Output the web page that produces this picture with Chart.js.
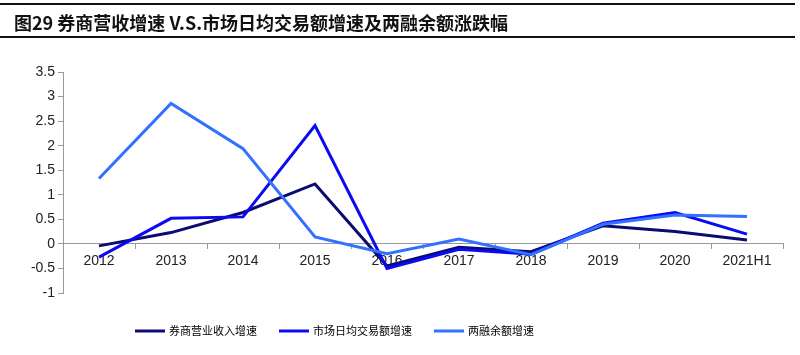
<!DOCTYPE html>
<html>
<head>
<meta charset="utf-8">
<script src="https://cdn.jsdelivr.net/npm/chart.js@4.4.1/dist/chart.umd.min.js"></script>
<style>
  html, body { margin: 0; padding: 0; background: #fff; }
  body { width: 800px; height: 355px; position: relative; overflow: hidden; }
  #title {
    position: absolute; left: 0; top: 3px; width: 795px; height: 35px;
    border-top: 2px solid #111; border-bottom: 2px solid #111;
    font-family: "Noto Sans CJK SC", "Noto Sans", sans-serif; font-weight: bold;
    font-size: 18px; line-height: 35px; color: #111; padding-left: 14px; box-sizing: border-box;
    z-index: 2;
  }
  #wrap { position: absolute; left: 0; top: 0; width: 800px; height: 355px; }
</style>
</head>
<body>
<div id="title">图29 券商营收增速 V.S.市场日均交易额增速及两融余额涨跌幅</div>
<div id="wrap"><canvas id="c" width="800" height="355"></canvas></div>
<script>
const categories = ['2012','2013','2014','2015','2016','2017','2018','2019','2020','2021H1'];
const seriesNames = ['券商营业收入增速','市场日均交易额增速','两融余额增速'];
const brokerRevenueGrowth = [-0.04, 0.23, 0.64, 1.22, -0.45, -0.07, -0.16, 0.37, 0.25, 0.08];
const marketTurnoverGrowth = [-0.27, 0.52, 0.55, 2.41, -0.50, -0.11, -0.21, 0.42, 0.64, 0.20];
const marginBalanceGrowth = [1.33, 2.86, 1.94, 0.14, -0.20, 0.10, -0.22, 0.40, 0.59, 0.56];
const yTicks = [-1, -0.5, 0, 0.5, 1, 1.5, 2, 2.5, 3, 3.5];

const colors = ['#0b0b72', '#0a0af5', '#3370ff'];

const legendPlugin = {
  id: 'customLegend',
  afterDraw(chart) {
    const ctx = chart.ctx;
    ctx.save();
    ctx.font = '11px "Noto Sans CJK SC", sans-serif';
    ctx.textBaseline = 'middle';
    ctx.fillStyle = '#000';
    let x = 135;
    const y = 331;
    chart.data.datasets.forEach((ds, i) => {
      ctx.strokeStyle = ds.borderColor;
      ctx.lineWidth = 3;
      ctx.beginPath();
      ctx.moveTo(x, y);
      ctx.lineTo(x + 30, y);
      ctx.stroke();
      ctx.fillText(ds.label, x + 34, y);
      x += 34 + ctx.measureText(ds.label).width + 22;
    });
    ctx.restore();
  }
};

const data = {
  labels: categories,
  datasets: [
    { label: seriesNames[0], data: brokerRevenueGrowth, borderColor: colors[0], order: 3 },
    { label: seriesNames[1], data: marketTurnoverGrowth, borderColor: colors[1], order: 2 },
    { label: seriesNames[2], data: marginBalanceGrowth, borderColor: colors[2], order: 1 }
  ].map(d => Object.assign({ borderWidth: 3, pointRadius: 0, tension: 0, fill: false, backgroundColor: d.borderColor }, d))
};

new Chart(document.getElementById('c'), {
  type: 'line',
  data,
  plugins: [legendPlugin],
  options: {
    responsive: false,
    animation: false,
    devicePixelRatio: 1,
    layout: { padding: { top: 72, right: 17, bottom: 62, left: 0 } },
    plugins: { legend: { display: false }, tooltip: { enabled: false }, title: { display: false } },
    scales: {
      x: {
        type: 'category',
        position: { y: 0 },
        offset: true,
        afterFit: s => { s.height = 0; },
        grid: { display: true, drawOnChartArea: false, drawTicks: true, tickLength: 5, color: '#999', offset: true },
        border: { display: true, color: '#999', width: 1 },
        ticks: { color: '#222', font: { family: '"Liberation Sans", Arial, sans-serif', size: 14 }, padding: 4, maxRotation: 0, autoSkip: false }
      },
      y: {
        min: -1, max: 3.5,
        afterFit: s => { s.width = 63; },
        afterBuildTicks: s => { s.ticks = yTicks.map(v => ({ value: v })); },
        grid: { display: true, drawOnChartArea: false, drawTicks: true, tickLength: 5, color: '#999' },
        border: { display: true, color: '#999', width: 1 },
        ticks: { color: '#222', font: { family: '"Liberation Sans", Arial, sans-serif', size: 14 }, padding: 3,
                 callback: v => String(Number(v)) }
      }
    }
  }
});
</script>
</body>
</html>
